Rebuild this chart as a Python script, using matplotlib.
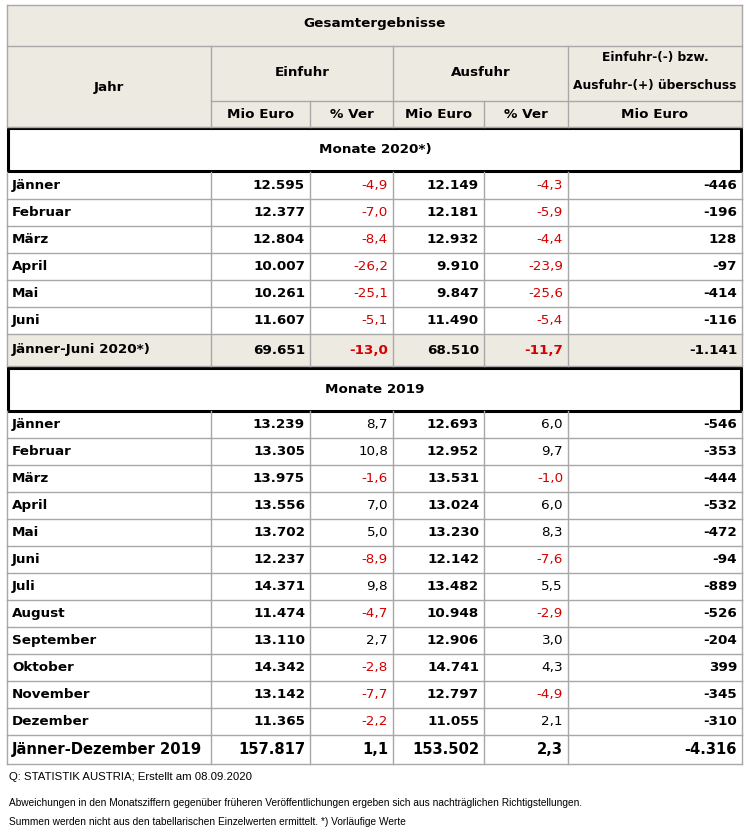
import matplotlib.pyplot as plt
from matplotlib.patches import Rectangle

months_2020 = ["Jänner", "Februar", "März", "April", "Mai", "Juni"]
ein_2020 = ["12.595", "12.377", "12.804", "10.007", "10.261", "11.607"]
ein_pct_2020 = ["-4,9", "-7,0", "-8,4", "-26,2", "-25,1", "-5,1"]
aus_2020 = ["12.149", "12.181", "12.932", "9.910", "9.847", "11.490"]
aus_pct_2020 = ["-4,3", "-5,9", "-4,4", "-23,9", "-25,6", "-5,4"]
saldo_2020 = ["-446", "-196", "128", "-97", "-414", "-116"]
sum_2020 = ["Jänner-Juni 2020*)", "69.651", "-13,0", "68.510", "-11,7", "-1.141"]

months_2019 = ["Jänner", "Februar", "März", "April", "Mai", "Juni", "Juli",
               "August", "September", "Oktober", "November", "Dezember"]
ein_2019 = ["13.239", "13.305", "13.975", "13.556", "13.702", "12.237",
            "14.371", "11.474", "13.110", "14.342", "13.142", "11.365"]
ein_pct_2019 = ["8,7", "10,8", "-1,6", "7,0", "5,0", "-8,9",
                "9,8", "-4,7", "2,7", "-2,8", "-7,7", "-2,2"]
aus_2019 = ["12.693", "12.952", "13.531", "13.024", "13.230", "12.142",
            "13.482", "10.948", "12.906", "14.741", "12.797", "11.055"]
aus_pct_2019 = ["6,0", "9,7", "-1,0", "6,0", "8,3", "-7,6",
                "5,5", "-2,9", "3,0", "4,3", "-4,9", "2,1"]
saldo_2019 = ["-546", "-353", "-444", "-532", "-472", "-94",
              "-889", "-526", "-204", "399", "-345", "-310"]
total_2019 = ["Jänner-Dezember 2019", "157.817", "1,1", "153.502", "2,3", "-4.316"]

footer = ["Q: STATISTIK AUSTRIA; Erstellt am 08.09.2020",
          "Abweichungen in den Monatsziffern gegenüber früheren Veröffentlichungen ergeben sich aus nachträglichen Richtigstellungen.",
          "Summen werden nicht aus den tabellarischen Einzelwerten ermittelt. *) Vorläufige Werte"]

# --- layout (pixels) ---
col_x = [7, 211, 310, 393, 484, 568, 742]
beige = "#EDEAE2"
grid = "#A8A8A8"
red = "#D40000"
font = "DejaVu Sans"
fs = 9.7

fig = plt.figure(figsize=(7.5, 8.32), dpi=100)
ax = fig.add_axes([0, 0, 1, 1])
ax.set_xlim(0, 750)
ax.set_ylim(832, 0)
ax.axis("off")


def hline(y, x0=col_x[0], x1=col_x[-1]):
    ax.plot([x0, x1], [y, y], color=grid, lw=1.0)


def vline(x, y0, y1):
    ax.plot([x, x], [y0, y1], color=grid, lw=1.0)


def data_row(y0, h, cells, bg=None, bold_all=False, size=fs):
    if bg:
        ax.add_patch(Rectangle((col_x[0], y0), col_x[-1] - col_x[0], h, color=bg, lw=0))
    yc = y0 + h / 2
    ax.text(col_x[0] + 5, yc, cells[0], ha="left", va="center", fontsize=size,
            fontweight="bold", family=font)
    for j, val in enumerate(cells[1:], start=1):
        is_pct = j in (2, 4)
        neg = val.startswith("-")
        color = red if (is_pct and neg) else "black"
        weight = "normal" if (is_pct and not bold_all) else "bold"
        ax.text(col_x[j + 1] - 5, yc, val, ha="right", va="center", fontsize=size,
                fontweight=weight, color=color, family=font)
    hline(y0 + h)
    for x in col_x:
        vline(x, y0, y0 + h)


# header
ax.add_patch(Rectangle((col_x[0], 5), col_x[-1] - col_x[0], 122, color=beige, lw=0))
ax.text(375, 24, "Gesamtergebnisse", ha="center", va="center", fontsize=fs,
        fontweight="bold", family=font)
hline(5)
hline(46)
hline(101, col_x[1], col_x[-1])
hline(127)
vline(col_x[0], 5, 127)
vline(col_x[-1], 5, 127)
for x in (col_x[1], col_x[3], col_x[5]):
    vline(x, 46, 127)
for x in (col_x[2], col_x[4]):
    vline(x, 101, 127)
ax.text((col_x[0] + col_x[1]) / 2, 87, "Jahr", ha="center", va="center",
        fontsize=fs, fontweight="bold", family=font)
ax.text((col_x[1] + col_x[3]) / 2, 72, "Einfuhr", ha="center", va="center",
        fontsize=fs, fontweight="bold", family=font)
ax.text((col_x[3] + col_x[5]) / 2, 72, "Ausfuhr", ha="center", va="center",
        fontsize=fs, fontweight="bold", family=font)
ax.text((col_x[5] + col_x[6]) / 2, 58, "Einfuhr-(-) bzw.", ha="center", va="center",
        fontsize=8.8, fontweight="bold", family=font)
ax.text((col_x[5] + col_x[6]) / 2, 85, "Ausfuhr-(+) überschuss", ha="center", va="center",
        fontsize=8.8, fontweight="bold", family=font)
for j, lab in enumerate(["Mio Euro", "% Ver", "Mio Euro", "% Ver", "Mio Euro"], start=1):
    ax.text((col_x[j] + col_x[j + 1]) / 2, 114, lab, ha="center", va="center",
            fontsize=fs, fontweight="bold", family=font)


def section(y0, y1, title):
    ax.add_patch(Rectangle((col_x[0] + 1, y0), col_x[-1] - col_x[0] - 2, y1 - y0,
                           facecolor="white", edgecolor="black", lw=2.2))
    ax.text(375, (y0 + y1) / 2, title, ha="center", va="center", fontsize=fs,
            fontweight="bold", family=font)


# 2020
section(128, 171, "Monate 2020*)")
rh = 27
y = 172
for i in range(len(months_2020)):
    data_row(y, rh, [months_2020[i], ein_2020[i], ein_pct_2020[i], aus_2020[i],
                     aus_pct_2020[i], saldo_2020[i]])
    y += rh
data_row(y, 32, sum_2020, bg=beige, bold_all=True)

# 2019
section(368, 411, "Monate 2019")
y = 411
for i in range(len(months_2019)):
    data_row(y, rh, [months_2019[i], ein_2019[i], ein_pct_2019[i], aus_2019[i],
                     aus_pct_2019[i], saldo_2019[i]])
    y += rh

# total 2019 row, slightly larger type
data_row(y, 29, total_2019, bold_all=True, size=10.6)

# footer
ax.text(9, 777, footer[0], ha="left", va="center", fontsize=8.2, family="Liberation Sans")
ax.text(9, 803, footer[1], ha="left", va="center", fontsize=7.3, family="Liberation Sans")
ax.text(9, 822, footer[2], ha="left", va="center", fontsize=7.3, family="Liberation Sans")

fig.savefig("out.png", dpi=100)
